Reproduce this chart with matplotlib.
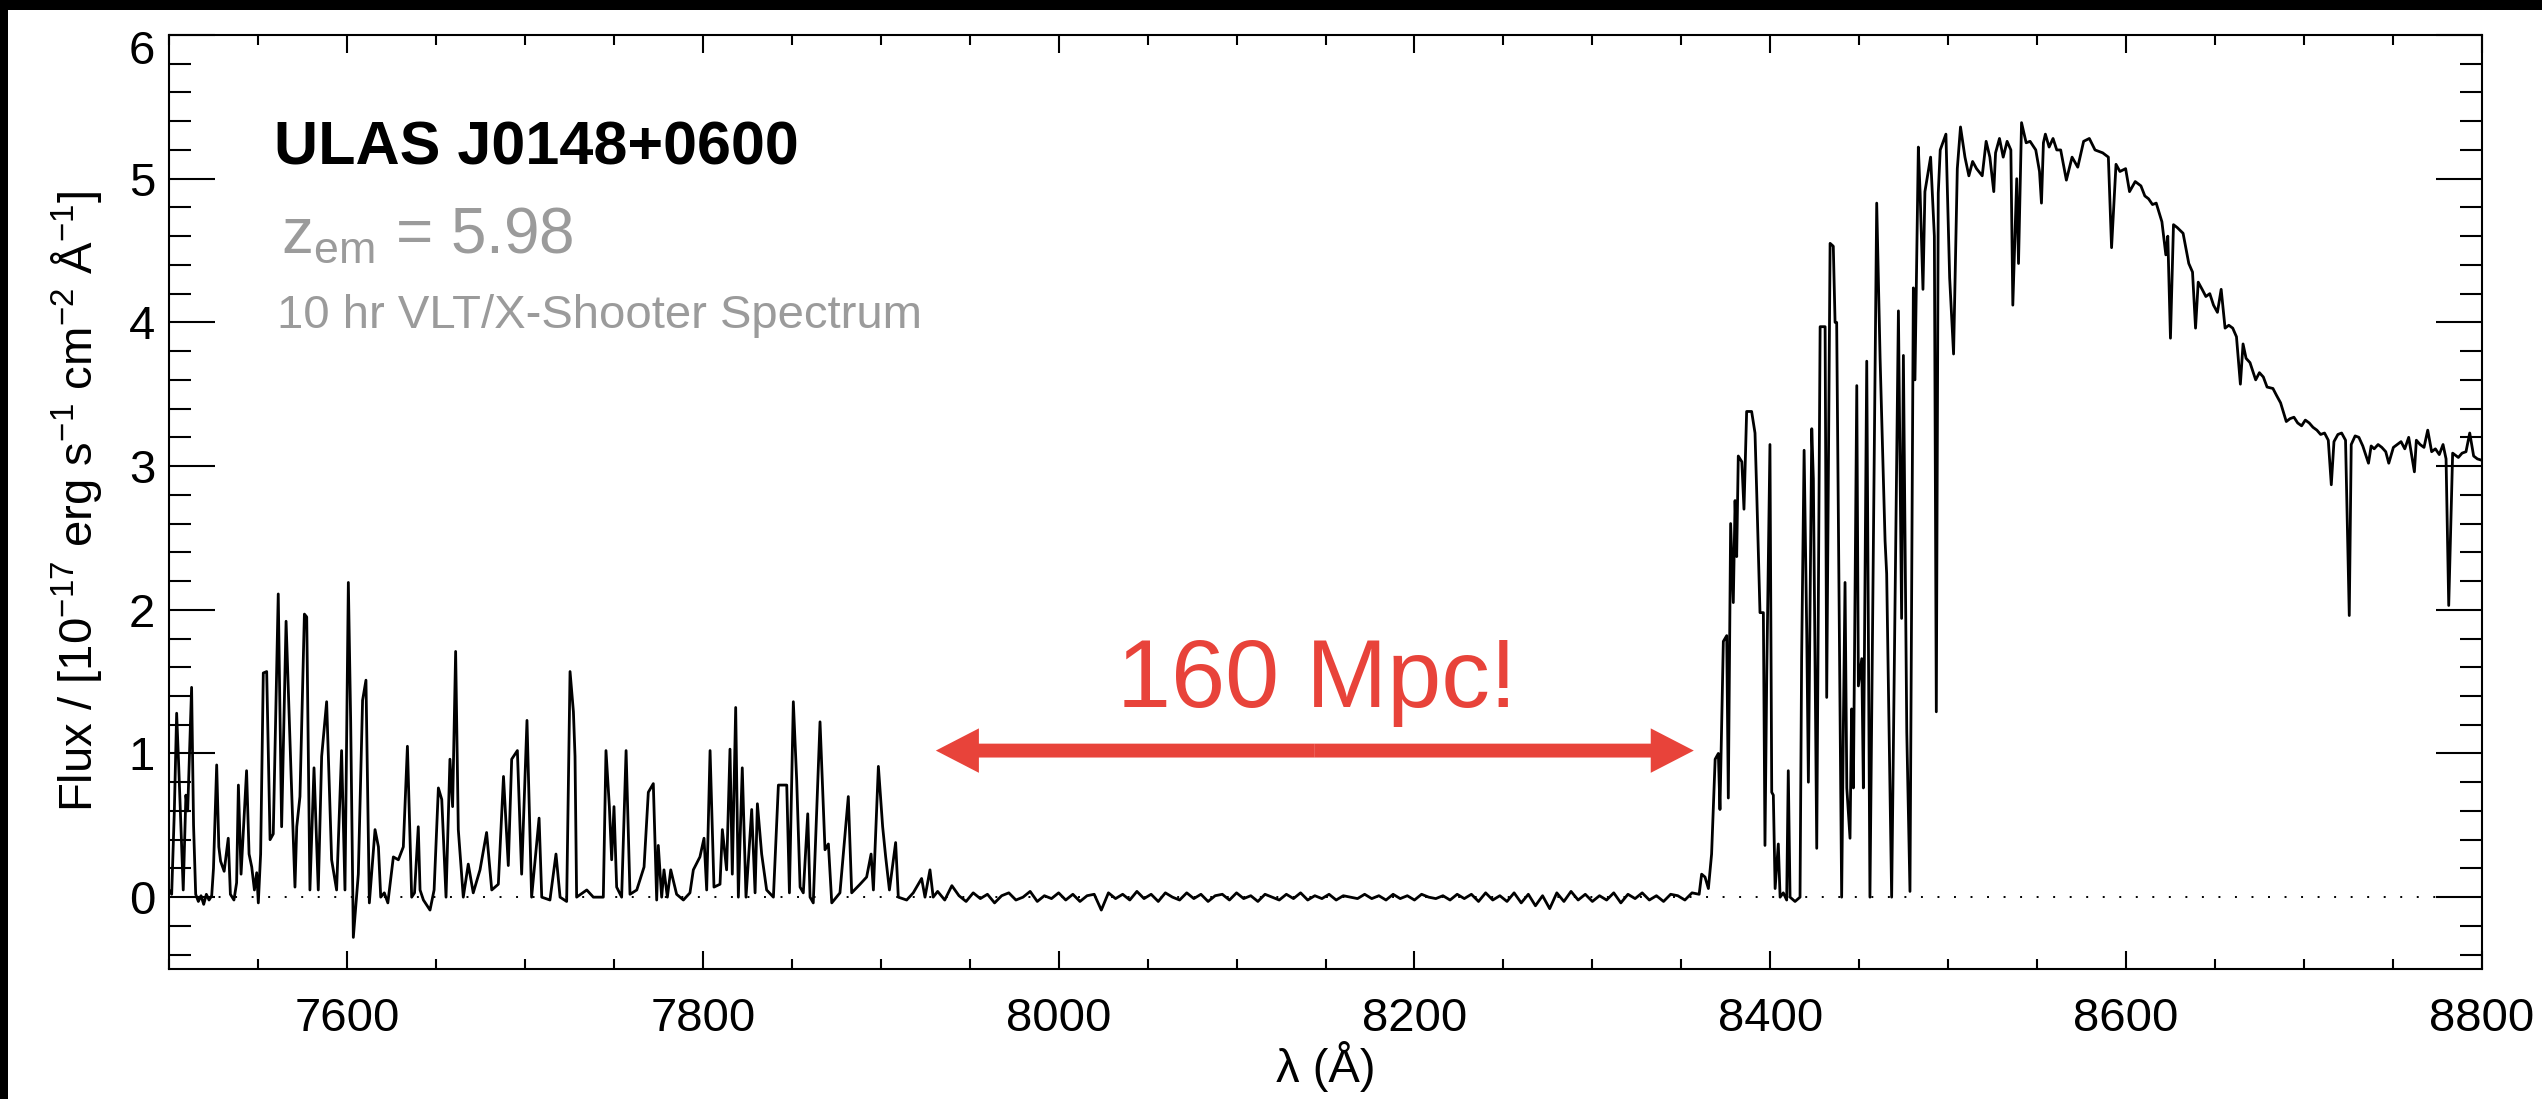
import numpy as np
import matplotlib
matplotlib.use("Agg")
import matplotlib.pyplot as plt
from matplotlib.patches import Rectangle, FancyArrowPatch, ArrowStyle
from matplotlib.ticker import MultipleLocator
from matplotlib.transforms import ScaledTranslation

plt.rcParams['font.family'] = ['Liberation Sans', 'DejaVu Sans']
plt.rcParams['mathtext.fontset'] = 'custom'
plt.rcParams['mathtext.rm'] = 'Liberation Sans'
plt.rcParams['mathtext.it'] = 'Liberation Sans:italic'
plt.rcParams['mathtext.bf'] = 'Liberation Sans:bold'

# ---------------- data ----------------
forest_wave = [
    7500.0, 7501.5, 7503.0, 7504.3, 7505.5, 7506.5, 7508.0, 7509.5, 7510.5, 7512.7,
    7513.8, 7515.0, 7516.5, 7518.0, 7519.5, 7521.0, 7522.5, 7524.0, 7525.0, 7526.8,
    7528.0, 7529.0, 7531.0, 7533.3, 7534.5, 7536.5, 7538.0, 7539.0, 7540.5, 7543.6,
    7545.0, 7546.5, 7548.0, 7549.3, 7550.2, 7551.5, 7553.0, 7554.9, 7556.8, 7558.6,
    7561.4, 7563.3, 7565.8, 7568.6, 7570.8, 7571.8, 7573.6, 7576.1, 7577.4, 7579.2,
    7581.5, 7583.9, 7585.8, 7588.6, 7591.4, 7594.2, 7597.0, 7598.9, 7600.8, 7602.1,
    7603.6, 7606.4, 7608.8, 7610.7, 7612.6, 7615.8, 7617.7, 7619.0, 7621.0, 7623.0,
    7626.1, 7628.9, 7631.7, 7634.0, 7636.4, 7638.0, 7640.1, 7641.1, 7643.0, 7646.7,
    7649.0, 7651.4, 7653.3, 7655.7, 7657.9, 7659.4, 7661.1, 7662.6, 7665.4, 7668.2,
    7671.0, 7674.8, 7678.5, 7681.4, 7685.1, 7688.0, 7690.7, 7692.6, 7695.8, 7698.2,
    7701.2, 7703.8, 7708.0, 7709.5, 7714.1, 7717.5, 7719.8, 7723.5, 7725.4, 7727.3,
    7728.2, 7729.1, 7734.8, 7738.5, 7744.1, 7745.6, 7747.5, 7748.8, 7750.1, 7751.6,
    7754.4, 7756.9, 7759.1, 7762.9, 7767.0, 7769.4, 7772.2, 7774.1, 7775.0, 7776.9,
    7778.2, 7780.1, 7782.0, 7785.3, 7789.1, 7792.8, 7794.7, 7798.4, 7800.7, 7802.2,
    7804.1, 7806.3, 7809.7, 7811.0, 7813.4, 7815.3, 7816.6, 7818.5, 7820.0, 7822.2,
    7824.3, 7827.5, 7829.4, 7830.7, 7833.1, 7835.9, 7839.7, 7842.5, 7845.3, 7847.2,
    7848.7, 7850.9, 7852.8, 7854.7, 7856.5, 7859.0, 7860.3, 7862.1, 7865.9, 7868.7,
    7870.6, 7872.5, 7877.1, 7881.8, 7883.7, 7888.4, 7892.1, 7894.6, 7895.9, 7898.7,
    7901.1, 7902.8, 7904.9, 7908.4, 7909.9, 7914.6, 7918.3, 7923.0, 7924.9, 7927.7,
    7929.5,
]
forest_flux = [
    0.05, 0.02, 0.60, 1.28, 0.90, 0.56, 0.05, 0.71, 0.60, 1.46,
    0.50, 0.02, -0.03, 0.01, -0.05, 0.02, -0.02, 0.01, 0.20, 0.92,
    0.35, 0.25, 0.18, 0.41, 0.02, -0.02, 0.10, 0.78, 0.16, 0.88,
    0.30, 0.21, 0.05, 0.17, -0.04, 0.30, 1.56, 1.57, 0.40, 0.44,
    2.11, 0.49, 1.92, 0.86, 0.07, 0.49, 0.70, 1.97, 1.95, 0.05,
    0.90, 0.05, 0.98, 1.36, 0.26, 0.05, 1.02, 0.05, 2.19, 1.23,
    -0.28, 0.16, 1.37, 1.51, -0.04, 0.47, 0.35, 0.00, 0.03, -0.04,
    0.28, 0.26, 0.35, 1.05, 0.00, 0.03, 0.49, 0.05, -0.02, -0.09,
    0.05, 0.76, 0.68, 0.00, 0.96, 0.63, 1.71, 0.47, 0.00, 0.23,
    0.03, 0.19, 0.45, 0.05, 0.09, 0.84, 0.22, 0.96, 1.02, 0.16,
    1.23, 0.00, 0.55, 0.00, -0.02, 0.30, 0.00, -0.03, 1.57, 1.29,
    0.98, 0.00, 0.05, 0.00, 0.00, 1.02, 0.63, 0.26, 0.63, 0.07,
    0.00, 1.02, 0.02, 0.05, 0.21, 0.73, 0.79, -0.02, 0.36, 0.00,
    0.19, 0.00, 0.19, 0.02, -0.02, 0.03, 0.19, 0.28, 0.41, 0.05,
    1.02, 0.07, 0.09, 0.47, 0.19, 1.03, 0.16, 1.32, 0.00, 0.90,
    0.00, 0.61, 0.03, 0.65, 0.30, 0.05, 0.00, 0.78, 0.78, 0.78,
    0.03, 1.36, 0.81, 0.07, 0.03, 0.58, 0.00, -0.04, 1.22, 0.33,
    0.37, -0.04, 0.03, 0.70, 0.03, 0.09, 0.14, 0.30, 0.05, 0.91,
    0.49, 0.28, 0.05, 0.38, 0.00, -0.02, 0.03, 0.13, 0.00, 0.19,
    0.00,
]

# Gunn-Peterson trough: pixel grid 7932..8360 A in 4 A steps
gap_start, gap_step = 7932.0, 4.0
gap_flux = [
    0.04, -0.02, 0.08, 0.01, -0.03, 0.03, -0.01, 0.02, -0.04, 0.01,
    0.03, -0.02, 0.00, 0.04, -0.03, 0.01, -0.01, 0.03, -0.02, 0.02,
    -0.03, 0.01, 0.02, -0.09, 0.03, -0.01, 0.02, -0.02, 0.04, -0.01,
    0.02, -0.03, 0.03, 0.00, -0.02, 0.03, -0.01, 0.02, -0.03, 0.01,
    0.02, -0.02, 0.03, -0.01, 0.01, -0.03, 0.02, 0.00, -0.02, 0.02,
    -0.01, 0.03, -0.02, 0.01, -0.01, 0.02, -0.02, 0.01, 0.00, -0.01,
    0.02, -0.01, 0.01, -0.02, 0.02, -0.01, 0.01, -0.02, 0.02, 0.00,
    -0.01, 0.01, -0.02, 0.02, -0.01, 0.02, -0.03, 0.03, -0.02, 0.01,
    -0.03, 0.03, -0.04, 0.02, -0.06, 0.01, -0.08, 0.03, -0.03, 0.04,
    -0.02, 0.02, -0.03, 0.01, -0.02, 0.03, -0.04, 0.02, -0.01, 0.03,
    -0.02, 0.01, -0.03, 0.02, 0.01, -0.02, 0.03, 0.02,
]

edge_wave = [
    8361.4, 8363.3, 8365.2, 8367.0, 8369.0, 8370.8, 8371.7, 8373.6, 8375.5, 8376.4,
    8377.7, 8379.2, 8380.2, 8381.1, 8382.0, 8384.0, 8385.2, 8386.7, 8389.5, 8391.4,
    8392.4, 8394.2, 8396.1, 8397.0, 8398.0, 8399.8, 8400.8, 8401.7, 8402.7, 8404.5,
    8405.5, 8407.3, 8409.2, 8410.1, 8411.1, 8413.9, 8416.7, 8417.6, 8419.0, 8420.5,
    8421.4, 8423.3, 8424.2, 8426.1, 8428.0, 8430.8, 8431.7, 8433.6, 8435.4, 8436.4,
    8437.3, 8440.1, 8441.1, 8442.0, 8443.0, 8444.8, 8445.7, 8446.7, 8448.6, 8449.5,
    8451.4, 8452.3, 8454.2, 8456.0, 8459.8, 8461.7, 8462.6, 8464.5, 8465.4, 8468.2,
    8472.0, 8473.8, 8474.8, 8476.7, 8478.5, 8480.4, 8481.3, 8483.2, 8484.2,
]
edge_flux = [
    0.16, 0.14, 0.06, 0.30, 0.96, 1.00, 0.61, 1.78, 1.82, 0.69,
    2.60, 2.05, 2.76, 2.37, 3.07, 3.03, 2.70, 3.38, 3.38, 3.23,
    2.80, 1.98, 1.98, 0.36, 1.55, 3.15, 0.73, 0.71, 0.06, 0.37,
    0.00, 0.03, -0.02, 0.88, 0.00, -0.03, 0.00, 1.66, 3.11, 1.82,
    0.80, 3.26, 2.91, 0.34, 3.97, 3.97, 1.39, 4.55, 4.53, 4.00,
    4.00, 0.00, 1.23, 2.19, 0.76, 0.41, 1.31, 0.76, 3.56, 1.47,
    1.66, 0.76, 3.73, 0.00, 4.83, 3.75, 3.34, 2.48, 2.25, 0.00,
    4.08, 1.94, 3.77, 1.15, 0.04, 4.24, 3.60, 5.22, 4.90,
]

cont_wave = [
    8485.8, 8486.9, 8490.1, 8492.2, 8493.3, 8494.4, 8495.5, 8498.7, 8500.8, 8503.0,
    8505.1, 8506.9, 8509.4, 8511.6, 8513.7, 8515.9, 8519.1, 8521.3, 8523.4, 8525.6,
    8526.6, 8528.8, 8530.9, 8533.1, 8535.2, 8536.3, 8538.5, 8539.5, 8541.2, 8543.8,
    8546.0, 8549.2, 8551.3, 8552.4, 8553.5, 8554.6, 8556.7, 8558.9, 8561.0, 8563.2,
    8566.4, 8569.6, 8572.8, 8576.1, 8579.3, 8582.5, 8586.8, 8590.0, 8591.8, 8594.3,
    8596.5, 8599.7, 8601.9, 8605.1, 8608.3, 8610.5, 8612.6, 8614.8, 8616.9, 8620.1,
    8622.3, 8623.4, 8624.9, 8626.6, 8628.7, 8632.0, 8635.2, 8637.3, 8639.0, 8640.5,
    8642.7, 8644.8, 8647.0, 8649.1, 8651.3, 8653.4, 8655.6, 8657.7, 8659.9, 8662.0,
    8664.2, 8665.7, 8667.4, 8669.6, 8672.8, 8674.9, 8677.1, 8679.2, 8682.5, 8684.6,
    8686.8, 8690.0, 8692.1, 8694.3, 8696.4, 8698.6, 8700.7, 8702.9, 8705.0, 8707.2,
    8709.3, 8711.5, 8713.6, 8715.3, 8716.8, 8719.0, 8721.1, 8723.3, 8725.4, 8726.5,
    8728.7, 8730.8, 8733.0, 8736.2, 8737.7, 8739.4, 8741.6, 8743.7, 8745.9, 8747.6,
    8750.2, 8752.3, 8754.5, 8756.6, 8758.8, 8762.0, 8763.1, 8765.2, 8767.4, 8769.5,
    8771.7, 8773.8, 8776.0, 8778.1, 8779.8, 8781.3, 8783.5, 8786.7, 8788.8, 8791.0,
    8793.1, 8795.3, 8797.4, 8800.0,
]
cont_flux = [
    4.23, 4.91, 5.15, 4.60, 1.29, 4.90, 5.20, 5.31, 4.31, 3.78,
    5.07, 5.36, 5.15, 5.02, 5.12, 5.07, 5.02, 5.26, 5.15, 4.91,
    5.18, 5.28, 5.15, 5.26, 5.20, 4.12, 5.00, 4.41, 5.39, 5.25,
    5.26, 5.20, 5.05, 4.83, 5.25, 5.31, 5.22, 5.28, 5.20, 5.20,
    4.99, 5.15, 5.08, 5.26, 5.28, 5.20, 5.18, 5.15, 4.52, 5.10,
    5.05, 5.07, 4.91, 4.98, 4.95, 4.88, 4.86, 4.82, 4.83, 4.70,
    4.47, 4.60, 3.89, 4.68, 4.66, 4.62, 4.41, 4.35, 3.96, 4.28,
    4.23, 4.18, 4.20, 4.12, 4.07, 4.23, 3.96, 3.98, 3.96, 3.90,
    3.57, 3.85, 3.75, 3.72, 3.60, 3.65, 3.62, 3.55, 3.54, 3.49,
    3.44, 3.31, 3.33, 3.34, 3.30, 3.28, 3.32, 3.30, 3.27, 3.25,
    3.22, 3.23, 3.18, 2.87, 3.17, 3.22, 3.23, 3.18, 1.96, 3.15,
    3.21, 3.20, 3.14, 3.02, 3.14, 3.12, 3.15, 3.13, 3.10, 3.02,
    3.13, 3.15, 3.17, 3.12, 3.20, 2.96, 3.18, 3.15, 3.13, 3.25,
    3.10, 3.12, 3.08, 3.15, 3.05, 2.03, 3.09, 3.06, 3.09, 3.10,
    3.23, 3.07, 3.05, 3.04,
]

x_ticks = [7600, 7800, 8000, 8200, 8400, 8600, 8800]
y_ticks = [0, 1, 2, 3, 4, 5, 6]

object_name = "ULAS J0148+0600"
redshift_label = r"z$_{\mathrm{em}}$ = 5.98"
spectrum_label = "10 hr VLT/X-Shooter Spectrum"
distance_label = "160 Mpc!"
arrow_span = (7931.0, 8357.0)
arrow_level = 1.02

# ---------------- assemble spectrum ----------------
gap_wave = gap_start + gap_step * np.arange(len(gap_flux))
wave = np.concatenate([forest_wave, gap_wave, edge_wave, cont_wave])
flux = np.concatenate([forest_flux, gap_flux, edge_flux, cont_flux])

W, H = 2542, 1099
fig = plt.figure(figsize=(W / 100, H / 100), dpi=100, facecolor='black')
fig.add_artist(Rectangle((8 / W, 0), 1, (H - 10) / H, transform=fig.transFigure,
                         facecolor='white', edgecolor='none', zorder=-10))

ax = fig.add_axes([169 / W, (H - 969) / H, 2313 / W, 934 / H])
ax.set_facecolor('white')

ax.axhline(0, color='black', lw=1.4, linestyle=(0, (1, 7.5)), zorder=1)
ax.plot(wave, flux, color='black', lw=2.0, zorder=2)

ax.set_xlim(7500, 8800)
ax.set_ylim(-0.5, 6)
ax.set_xticks(x_ticks)
ax.set_yticks(y_ticks)
ax.set_xticklabels([str(v) for v in x_ticks])
ax.set_yticklabels([str(v) for v in y_ticks])
ax.xaxis.set_minor_locator(MultipleLocator(50))
ax.yaxis.set_minor_locator(MultipleLocator(0.2))

ax.tick_params(which='both', direction='in', top=True, right=True, width=1.5, color='black')
ax.tick_params(axis='x', which='major', length=13, labelsize=34, pad=20)
ax.tick_params(axis='x', which='minor', length=7)
ax.tick_params(axis='y', which='major', length=33, labelsize=34, pad=10)
ax.tick_params(axis='y', which='minor', length=16)
for s in ax.spines.values():
    s.set_linewidth(1.5)

# the top y label sits a little inside the frame, as in the original
top_lab = ax.get_yticklabels()[-1]
top_lab.set_transform(top_lab.get_transform() + ScaledTranslation(0, -0.12, fig.dpi_scale_trans))

ax.text(-0.0333, 0.501, r"Flux / [10$^{-17}$ erg s$^{-1}$ cm$^{-2}$ Å$^{-1}$]",
        transform=ax.transAxes, rotation=90, rotation_mode='anchor',
        ha='center', va='baseline', fontsize=34)
ax.text(0.5, -0.1207, "λ (Å)", transform=ax.transAxes, ha='center', va='baseline', fontsize=34)

gray = '#9b9b9b'
red = '#e8433a'
ax.text(0.0454, 0.861, object_name, transform=ax.transAxes, ha='left', va='baseline',
        fontsize=44, fontweight='bold', color='black')
ax.text(0.0484, 0.7666, redshift_label, transform=ax.transAxes, ha='left', va='baseline',
        fontsize=46, color=gray)
ax.text(0.0467, 0.686, spectrum_label, transform=ax.transAxes, ha='left', va='baseline',
        fontsize=34, color=gray)

mid = 0.5 * (arrow_span[0] + arrow_span[1])
ax.text(8145, 1.32, distance_label, ha='center', va='baseline', fontsize=70, color=red)
style = ArrowStyle.Simple(head_length=3.1, head_width=3.2, tail_width=1.0)
for end in arrow_span:
    ax.add_patch(FancyArrowPatch((mid, arrow_level), (end, arrow_level), arrowstyle=style,
                                 mutation_scale=10, color=red, lw=0, shrinkA=0, shrinkB=0,
                                 zorder=3))

fig.savefig('out.png', dpi=100, facecolor=fig.get_facecolor())
